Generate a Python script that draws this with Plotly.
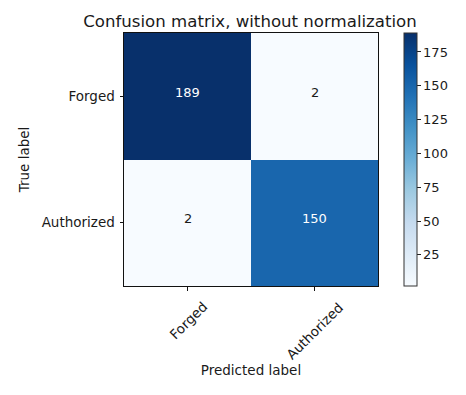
import plotly.graph_objects as go

classes = ["Forged", "Authorized"]
matrix = [[189, 2], [2, 150]]
cbar_ticks = [25, 50, 75, 100, 125, 150, 175]

blues = [
    [0.0, "#f7fbff"], [0.125, "#deebf7"], [0.25, "#c6dbef"], [0.375, "#9ecae1"],
    [0.5, "#6baed6"], [0.625, "#4292c6"], [0.75, "#2171b5"], [0.875, "#08519c"],
    [1.0, "#08306b"],
]

FONT = "DejaVu Sans"
TXT = "#1a1a1a"
FS = 13.5
W, H = 466, 395
OFF = 8  # browser body margin offset
L, T, PW, PH = 124 - OFF, 33 - OFF, 254, 253

zmin = min(min(r) for r in matrix)
zmax = max(max(r) for r in matrix)
idx = list(range(len(classes)))

fig = go.Figure(go.Heatmap(
    z=matrix, x=idx, y=idx, colorscale=blues, zmin=zmin, zmax=zmax,
    showscale=True, hoverinfo="skip",
    colorbar=dict(
        thickness=13, len=1, lenmode="fraction", y=0.5, yanchor="middle",
        x=(404 - OFF - L) / PW, xanchor="left", xpad=0, ypad=0,
        outlinewidth=1, outlinecolor="#333",
        tickvals=cbar_ticks, ticks="outside", ticklen=3.5, tickcolor="#222",
        tickfont=dict(family=FONT, size=13, color=TXT),
    ),
))

thresh = zmax / 2
for i, row in enumerate(matrix):
    for j, v in enumerate(row):
        fig.add_annotation(x=j, y=i, yshift=4, text=str(v), showarrow=False,
                           font=dict(family=FONT, size=13,
                                     color="white" if v > thresh else TXT))

# rotated x tick labels, centred under each tick (matplotlib style)
for j, name in enumerate(classes):
    rot_h = (0.55 * FS * len(name) + FS) * 0.7071  # height of the rotated label box
    centre_px = 14 + rot_h / 2                       # below the bottom spine
    fig.add_annotation(x=j, xref="x", y=-centre_px / PH, yref="paper",
                       text=name, textangle=-45, showarrow=False,
                       xanchor="center", yanchor="middle",
                       font=dict(family=FONT, size=FS, color=TXT))

axis_common = dict(showline=True, linecolor="#111", linewidth=1, mirror=True,
                   ticks="outside", ticklen=3.5, tickcolor="#111", showgrid=False,
                   zeroline=False,
                   tickfont=dict(family=FONT, size=FS, color=TXT))

fig.update_layout(
    width=W, height=H,
    margin=dict(l=L, r=W - L - PW, t=T, b=H - T - PH),
    paper_bgcolor="white", plot_bgcolor="white",
    title=dict(text="Confusion matrix, without normalization", x=(250 - OFF) / W,
               xanchor="center", y=1 - (21 - OFF) / H, yanchor="middle",
               font=dict(family=FONT, size=16.6, color=TXT)),
    xaxis=dict(tickvals=idx, showticklabels=False, range=[-0.5, 1.5],
               title=dict(text="Predicted label", standoff=76,
                          font=dict(family=FONT, size=FS, color=TXT)),
               **axis_common),
    yaxis=dict(tickvals=idx, ticktext=classes, range=[1.5, -0.5],
               ticklabelstandoff=2,
               title=dict(text="True label", standoff=8,
                          font=dict(family=FONT, size=FS, color=TXT)),
               **axis_common),
)

fig.write_html("out.html")
